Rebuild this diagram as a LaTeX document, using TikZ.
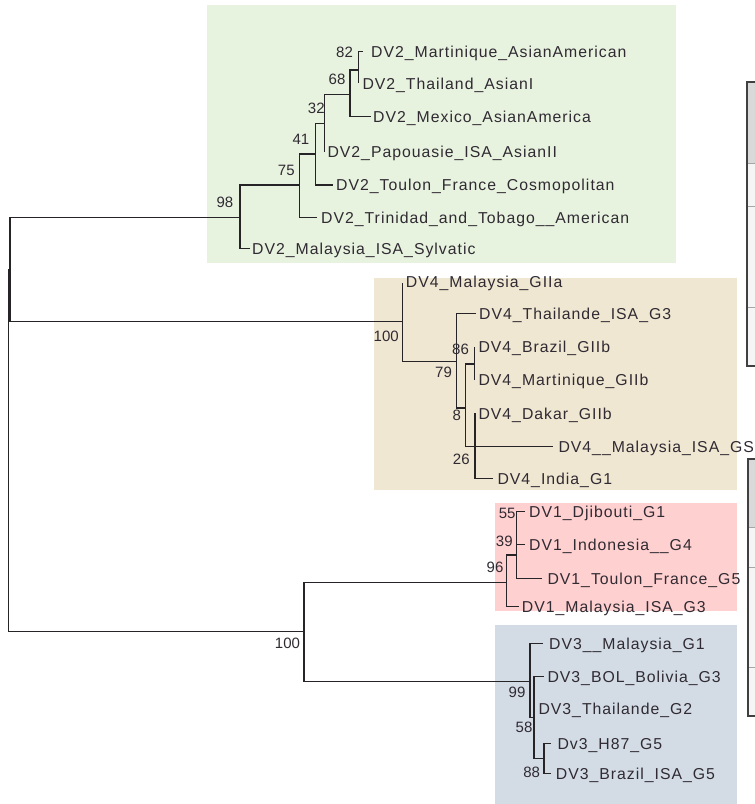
\documentclass[tikz,border=0pt]{standalone}
\usepackage{fontspec}
\setmainfont{Liberation Sans}
\newfontfamily\leaffont[LetterSpace=6.3]{Liberation Sans}
\definecolor{grn}{RGB}{231,243,223}
\definecolor{tanc}{RGB}{239,231,210}
\definecolor{pnk}{RGB}{255,208,208}
\definecolor{blu}{RGB}{211,220,229}
\definecolor{ink}{RGB}{38,36,38}
\definecolor{txt}{RGB}{48,42,50}
\tikzset{
  branch/.style={draw=ink, line width=1.1pt},
  leaf/.style={anchor=base west, inner sep=0pt, text=txt, font=\leaffont\fontsize{15.8}{18}\selectfont},
  boot/.style={anchor=base, inner sep=0pt, text=txt, font=\fontsize{15}{18}\selectfont},
  tabframe/.style={draw=black!75, line width=1.8pt},
  tabrule/.style={draw=black!35, line width=1pt}
}
\begin{document}
\begin{tikzpicture}[x=1pt,y=-1pt]
\useasboundingbox (0,0) rectangle (755,804);
\clip (0,0) rectangle (755,804);
% clade boxes
\fill[grn]  (207,5)   rectangle (676,263);
\fill[tanc] (374,278) rectangle (737,490);
\fill[pnk]  (495,503) rectangle (737,611);
\fill[blu]  (495,625) rectangle (737,804);
% partial tables at right edge
\fill[black!15] (747,82) rectangle (765,163);
\fill[black!4]  (747,163) rectangle (765,366);
\draw[tabrule] (747,163) -- (765,163);
\draw[tabrule] (747,206) -- (765,206);
\draw[tabrule] (747,307) -- (765,307);
\draw[tabframe] (747,82) rectangle (770,366);
\fill[black!15] (748,459) rectangle (765,527);
\fill[black!4]  (748,527) rectangle (765,716);
\draw[tabrule] (748,527) -- (765,527);
\draw[tabrule] (748,567) -- (765,567);
\draw[tabrule] (748,667) -- (765,667);
\draw[tabframe] (748,459) rectangle (770,716);

% ---- tree coordinates ----
\coordinate (root) at (8.3,450.7);
\coordinate (nA) at (10,269.7);
\coordinate (nB) at (304,631.7);
% DV2
\coordinate (n98) at (240,217.3);
\coordinate (n75) at (299.3,185);
\coordinate (n41) at (315.3,154);
\coordinate (n32) at (324.3,123.3);
\coordinate (n68) at (350,94.3);
\coordinate (n82) at (358.3,70);
\coordinate (lSylv) at (250,248.3);
\coordinate (lTrin) at (316.7,217.3);
\coordinate (lToul) at (333.3,185);
\coordinate (lPap) at (324.3,151.7);
\coordinate (lMex) at (370.7,116.7);
\coordinate (lMart) at (363.3,51.7);
\coordinate (lThai) at (358.3,83.3);
% DV4
\coordinate (n100a) at (402.3,321.7);
\coordinate (n79) at (456.7,361.7);
\coordinate (n8) at (465.7,408);
\coordinate (n86) at (474.7,364);
\coordinate (n26) at (475,446.7);
\coordinate (lGIIa) at (402.3,282.7);
\coordinate (lThaiG3) at (476,313.3);
\coordinate (lBraz) at (474.7,347);
\coordinate (lMartG) at (474.7,380);
\coordinate (lDak) at (475,413.3);
\coordinate (lGS) at (552.7,446.7);
\coordinate (lIndia) at (492.5,478.3);
% DV1
\coordinate (n96) at (506.7,582.7);
\coordinate (n39) at (516.5,555);
\coordinate (n55) at (516.5,528);
\coordinate (lDji) at (525,511.7);
\coordinate (lIndo) at (525,544.3);
\coordinate (lToulG5) at (541.7,578.3);
\coordinate (lMalG3) at (519.3,606.7);
% DV3
\coordinate (n99) at (530,681.5);
\coordinate (n58) at (534,717.5);
\coordinate (n88) at (544,758.3);
\coordinate (lMalG1) at (543.3,643.3);
\coordinate (lBOL) at (544,676.7);
\coordinate (lThaiG2) at (534,708.3);
\coordinate (lH87) at (551,743.3);
\coordinate (lBrazG5) at (551,773.3);

% ---- branches ----
\draw[branch] (root) |- (nA);
\draw[branch] (root) |- (nB);
\draw[branch] (nA) |- (n98);
\draw[branch] (nA) |- (n100a);
\draw[branch] (n98) |- (lSylv);
\draw[branch] (n98) |- (n75);
\draw[branch] (n75) |- (lTrin);
\draw[branch] (n75) |- (n41);
\draw[branch] (n41) |- (lToul);
\draw[branch] (n41) |- (n32);
\draw[branch] (n32) |- (lPap);
\draw[branch] (n32) |- (n68);
\draw[branch] (n68) |- (lMex);
\draw[branch] (n68) |- (n82);
\draw[branch] (n82) |- (lMart);
\draw[branch] (n82) |- (lThai);
\draw[branch] (n100a) |- (lGIIa);
\draw[branch] (n100a) |- (n79);
\draw[branch] (n79) |- (lThaiG3);
\draw[branch] (n79) |- (n8);
\draw[branch] (n8) |- (n86);
\draw[branch] (n8) |- (n26);
\draw[branch] (n86) |- (lBraz);
\draw[branch] (n86) |- (lMartG);
\draw[branch] (n26) |- (lDak);
\draw[branch] (n26) |- (lIndia);
\draw[branch] (n26) -- (lGS);
\draw[branch] (nB) |- (n96);
\draw[branch] (nB) |- (n99);
\draw[branch] (n96) |- (lMalG3);
\draw[branch] (n96) |- (n39);
\draw[branch] (n39) |- (lToulG5);
\draw[branch] (n39) |- (n55);
\draw[branch] (n55) |- (lDji);
\draw[branch] (n55) |- (lIndo);
\draw[branch] (n99) |- (lMalG1);
\draw[branch] (n99) |- (n58);
\draw[branch] (n58) |- (lBOL);
\draw[branch] (n58) |- (lThaiG2);
\draw[branch] (n58) |- (n88);
\draw[branch] (n88) |- (lH87);
\draw[branch] (n88) |- (lBrazG5);

% ---- leaf labels ----
\node[leaf] (tMart) at (371,57.4) {DV2\_Martinique\_AsianAmerican};
\node[leaf] (tThai) at (362.3,89) {DV2\_Thailand\_AsianI};
\node[leaf] (tMex) at (373,122.4) {DV2\_Mexico\_AsianAmerica};
\node[leaf] (tPap) at (327.3,157.4) {DV2\_Papouasie\_ISA\_AsianII};
\node[leaf] (tToul) at (336,190.7) {DV2\_Toulon\_France\_Cosmopolitan};
\node[leaf] (tTrin) at (321,223) {DV2\_Trinidad\_and\_Tobago\_\_American};
\node[leaf] (tSylv) at (252,254) {DV2\_Malaysia\_ISA\_Sylvatic};
\node[leaf] (tGIIa) at (405.7,287.4) {DV4\_Malaysia\_GIIa};
\node[leaf] (tThaiG3) at (479,319) {DV4\_Thailande\_ISA\_G3};
\node[leaf] (tBraz) at (478.3,352.7) {DV4\_Brazil\_GIIb};
\node[leaf] (tMartG) at (478.3,385.7) {DV4\_Martinique\_GIIb};
\node[leaf] (tDak) at (478.3,419) {DV4\_Dakar\_GIIb};
\node[leaf] (tGS) at (558.3,452.4) {DV4\_\_Malaysia\_ISA\_GS};
\node[leaf] (tIndia) at (497.3,484) {DV4\_India\_G1};
\node[leaf] (tDji) at (529,517.4) {DV1\_Djibouti\_G1};
\node[leaf] (tIndo) at (529,550) {DV1\_Indonesia\_\_G4};
\node[leaf] (tToulG5) at (547.3,584) {DV1\_Toulon\_France\_G5};
\node[leaf] (tMalG3) at (521.7,612.4) {DV1\_Malaysia\_ISA\_G3};
\node[leaf] (tMalG1) at (549,649) {DV3\_\_Malaysia\_G1};
\node[leaf] (tBOL) at (547.3,682.4) {DV3\_BOL\_Bolivia\_G3};
\node[leaf] (tThaiG2) at (538.3,714) {DV3\_Thailande\_G2};
\node[leaf] (tH87) at (557.3,749) {Dv3\_H87\_G5};
\node[leaf] (tBrazG5) at (555.7,779) {DV3\_Brazil\_ISA\_G5};

% ---- bootstrap values ----
\node[boot] (b82) at (344.5,57.3) {82};
\node[boot] (b68) at (337,84.8) {68};
\node[boot] (b32) at (316.3,113.3) {32};
\node[boot] (b41) at (301,144.3) {41};
\node[boot] (b75) at (286.3,175.3) {75};
\node[boot] (b98) at (225,207) {98};
\node[boot] (b100a) at (386.2,341) {100};
\node[boot] (b79) at (443.5,377) {79};
\node[boot] (b86) at (460.5,354.6) {86};
\node[boot] (b8) at (456.7,420.3) {8};
\node[boot] (b26) at (461.3,464.3) {26};
\node[boot] (b55) at (507.2,518.6) {55};
\node[boot] (b39) at (504.3,546.1) {39};
\node[boot] (b96) at (495,572) {96};
\node[boot] (b99) at (517,697) {99};
\node[boot] (b58) at (524,732) {58};
\node[boot] (b88) at (531.7,777) {88};
\node[boot] (b100b) at (287.5,648.6) {100};
\end{tikzpicture}
\end{document}
